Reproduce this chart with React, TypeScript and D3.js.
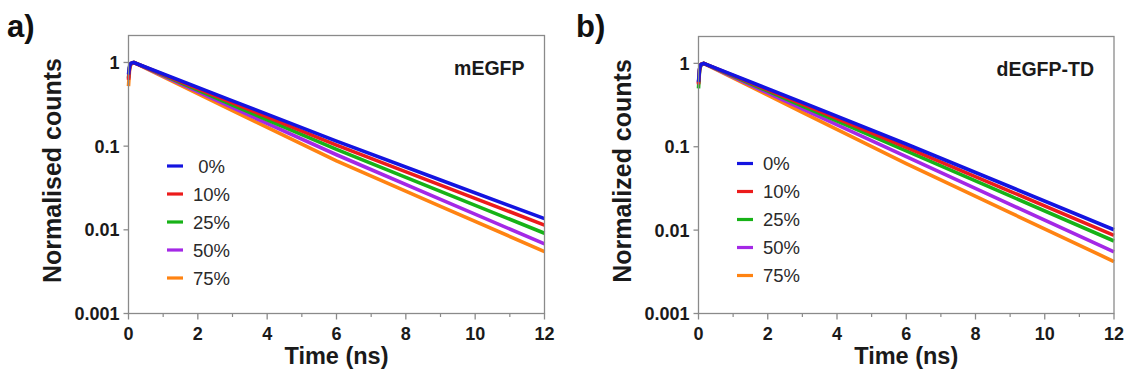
import React from "react";
import * as d3 from "d3";

// ---- data ----
const seriesLabels = ["0%", "10%", "25%", "50%", "75%"];
const seriesColors = ["#1414e0", "#ec1b1b", "#17b217", "#a428e6", "#ff8312"];

const times = [0, 0.03, 0.07, 0.15, 3, 6, 9, 12];

// Panel a) mEGFP
const mEGFP_0 = [0.72, 0.9, 0.98, 1.0, 0.348, 0.115, 0.0394, 0.0136];
const mEGFP_10 = [0.62, 0.86, 0.97, 1.0, 0.329, 0.103, 0.0342, 0.0114];
const mEGFP_25 = [0.66, 0.88, 0.97, 1.0, 0.31, 0.0916, 0.0288, 0.0091];
const mEGFP_50 = [0.64, 0.87, 0.97, 1.0, 0.288, 0.0789, 0.0231, 0.0068];
const mEGFP_75 = [0.52, 0.82, 0.96, 1.0, 0.265, 0.0668, 0.0191, 0.0055];

// Panel b) dEGFP-TD
const dEGFP_0 = [0.6, 0.86, 0.97, 1.0, 0.34, 0.108, 0.0331, 0.0101];
const dEGFP_10 = [0.56, 0.84, 0.97, 1.0, 0.324, 0.0984, 0.0292, 0.00865];
const dEGFP_25 = [0.5, 0.82, 0.96, 1.0, 0.308, 0.0893, 0.0257, 0.0074];
const dEGFP_50 = [0.57, 0.85, 0.97, 1.0, 0.285, 0.076, 0.0204, 0.0055];
const dEGFP_75 = [0.58, 0.85, 0.97, 1.0, 0.258, 0.0628, 0.0162, 0.0042];

const yTicks = [0.001, 0.01, 0.1, 1];
const yTickLabels = ["0.001", "0.01", "0.1", "1"];
const xMajorTicks = [0, 2, 4, 6, 8, 10, 12];
const xMinorTicks = [1, 3, 5, 7, 9, 11];

const FONT = "'Liberation Sans', Arial, Helvetica, sans-serif";
const AXIS = "#8a8a8a";
const TEXT = "#1a1a1a";

type PanelProps = {
  x0: number;
  x1: number;
  top: number;
  bottom: number;
  letter: string;
  letterX: number;
  yTitle: string;
  yTitleX: number;
  name: string;
  series: number[][];
  legendX: number;
  legendY: number;
  legendLabels: string[];
};

function Panel(p: PanelProps) {
  const x = d3.scaleLinear().domain([0, 12]).range([p.x0, p.x1]);
  const y = d3.scaleLog().domain([0.001, 2.1]).range([p.bottom, p.top]);
  const line = d3
    .line<[number, number]>()
    .x((d) => x(d[0]))
    .y((d) => y(d[1]))
    .curve(d3.curveLinear);
  const order = [4, 3, 2, 1, 0];
  const yOne = y(1);
  return (
    <g>
      <text x={p.letterX} y={37} fontFamily={FONT} fontWeight="bold" fontSize={31} fill="#111">
        {p.letter}
      </text>
      {/* data */}
      <g>
        {order.map((i) => (
          <path
            key={i}
            d={line(times.map((t, k) => [t, p.series[i][k]] as [number, number])) || ""}
            fill="none"
            stroke={seriesColors[i]}
            strokeWidth={3.6}
            strokeLinejoin="round"
          />
        ))}
      </g>
      {/* frame */}
      <rect
        x={p.x0}
        y={p.top}
        width={p.x1 - p.x0}
        height={p.bottom - p.top}
        fill="none"
        stroke={AXIS}
        strokeWidth={1.3}
      />
      {/* y ticks */}
      {yTicks.map((v, i) => (
        <g key={v}>
          <line x1={p.x0 - 5} x2={p.x0} y1={y(v)} y2={y(v)} stroke={AXIS} strokeWidth={1.3} />
          <text
            x={p.x0 - 9}
            y={y(v)}
            dy="0.36em"
            textAnchor="end"
            fontFamily={FONT}
            fontWeight="bold"
            fontSize={18}
            fill={TEXT}
          >
            {yTickLabels[i]}
          </text>
        </g>
      ))}
      {/* x ticks */}
      {xMajorTicks.map((v) => (
        <g key={v}>
          <line x1={x(v)} x2={x(v)} y1={p.bottom} y2={p.bottom + 6} stroke={AXIS} strokeWidth={1.3} />
          <text
            x={x(v)}
            y={p.bottom + 26}
            textAnchor="middle"
            fontFamily={FONT}
            fontWeight="bold"
            fontSize={18}
            fill={TEXT}
          >
            {v}
          </text>
        </g>
      ))}
      {xMinorTicks.map((v) => (
        <line key={v} x1={x(v)} x2={x(v)} y1={p.bottom} y2={p.bottom + 3.5} stroke={AXIS} strokeWidth={1.2} />
      ))}
      {/* axis titles */}
      <text
        x={(p.x0 + p.x1) / 2}
        y={364}
        textAnchor="middle"
        fontFamily={FONT}
        fontWeight="bold"
        fontSize={23.5}
        fill={TEXT}
      >
        Time (ns)
      </text>
      <text
        transform={`translate(${p.yTitleX},${(p.top + p.bottom) / 2 - 4}) rotate(-90)`}
        textAnchor="middle"
        fontFamily={FONT}
        fontWeight="bold"
        fontSize={25}
        fill={TEXT}
      >
        {p.yTitle}
      </text>
      {/* sample name */}
      <text
        x={p.x1 - 20}
        y={yOne + 13}
        textAnchor="end"
        fontFamily={FONT}
        fontWeight="bold"
        fontSize={19.5}
        fill={TEXT}
      >
        {p.name}
      </text>
      {/* legend */}
      {seriesLabels.map((_, i) => {
        const ly = p.legendY + i * 28;
        return (
          <g key={i}>
            <line x1={p.legendX} x2={p.legendX + 16} y1={ly} y2={ly} stroke={seriesColors[i]} strokeWidth={3.2} />
            <text
              x={p.legendX + 26}
              y={ly}
              dy="0.36em"
              fontFamily={FONT}
              fontSize={18.5}
              fill="#2a2a2a"
              style={{ whiteSpace: "pre" }}
            >
              {p.legendLabels[i]}
            </text>
          </g>
        );
      })}
    </g>
  );
}

export default function App() {
  return (
    <svg
      width={1124}
      height={377}
      viewBox="0 0 1124 377"
      style={{ position: "absolute", left: 0, top: 0, background: "#fff" }}
    >
      <rect x={0} y={0} width={1124} height={377} fill="#fff" />
      <Panel
        x0={128.5}
        x1={544.5}
        top={35.5}
        bottom={313.5}
        letter="a)"
        letterX={7}
        yTitle="Normalised counts"
        yTitleX={61}
        name="mEGFP"
        series={[mEGFP_0, mEGFP_10, mEGFP_25, mEGFP_50, mEGFP_75]}
        legendX={167}
        legendY={166}
        legendLabels={[" 0%", "10%", "25%", "50%", "75%"]}
      />
      <Panel
        x0={698.5}
        x1={1114}
        top={36.5}
        bottom={313.5}
        letter="b)"
        letterX={576}
        yTitle="Normalized counts"
        yTitleX={631}
        name="dEGFP-TD"
        series={[dEGFP_0, dEGFP_10, dEGFP_25, dEGFP_50, dEGFP_75]}
        legendX={737}
        legendY={163.5}
        legendLabels={seriesLabels}
      />
    </svg>
  );
}
